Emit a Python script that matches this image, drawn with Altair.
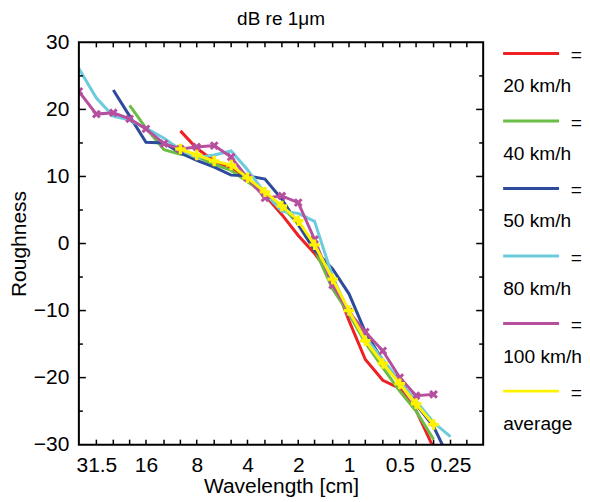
import altair as alt
import pandas as pd

# ---- data ----
wavelengths = [40, 31.5, 25, 20, 16, 12.5, 10, 8, 6.3, 5, 4, 3.15, 2.5, 2, 1.6,
               1.25, 1, 0.8, 0.63, 0.5, 0.4, 0.315, 0.25]
N = None
v20 = [N, N, N, N, N, N, 16.8, 14.2, 12.3, 11.2, 9.4, 7.2, 4.3, 1.2, -1.5,
       -5.0, -11.5, -17.3, -20.4, -21.6, -24.9, -30.5, N]
v40 = [N, N, N, 20.6, 17.2, 14.0, 13.3, 13.0, 11.8, 10.9, 9.2, 7.5, 5.5, 3.0, -0.8,
       -6.8, -10.5, -14.8, -18.5, -22.0, -25.0, -29.2, N]
v50 = [N, N, 22.9, 19.0, 15.1, 15.0, 13.5, 12.4, 11.4, 10.2, 10.1, 9.6, 6.6, 2.8, -1.0,
       -3.8, -7.5, -13.2, -17.5, -20.6, -24.0, -27.3, -32.5]
v80 = [26.1, 21.7, 19.0, 18.4, 17.2, 15.7, 14.0, 12.8, 13.2, 13.8, 11.0, 7.5, 4.8, 4.5, 3.3,
       -5.0, -10.3, -14.0, -17.3, -20.6, -23.5, -26.7, -28.8]
v100 = [22.7, 19.3, 19.5, 18.6, 17.1, 14.9, 14.1, 14.4, 14.6, 12.9, 9.8, 6.8, 7.1, 6.1, 0.6,
        -6.2, -10.2, -13.2, -16.0, -20.0, -22.7, -22.5, N]
vavg = [N, N, N, N, N, N, 14.1, 13.2, 12.3, 11.7, 9.8, 7.7, 5.6, 3.4, -0.2,
        -5.3, -10.0, -14.5, -17.9, -20.9, -23.9, -27.0, N]

labels = ["20 km/h", "40 km/h", "50 km/h", "80 km/h", "100 km/h", "average"]
colors = ["#ee2024", "#6cbd45", "#2e4b9b", "#6ccbdc", "#b74f9f", "#fff200"]
series = [v20, v40, v50, v80, v100, vavg]

x_ticks = [31.5, 25, 20, 16, 12.5, 10, 8, 6.3, 5, 4, 3.15, 2.5, 2, 1.6, 1.25, 1,
           0.8, 0.63, 0.5, 0.4, 0.315, 0.25, 0.2]
x_labeled = [31.5, 16, 8, 4, 2, 1, 0.5, 0.25]
y_major = [-30, -20, -10, 0, 10, 20, 30]
y_minor = [-25, -15, -5, 5, 15, 25]

rows = []
for lab, vals in zip(labels, series):
    for w, v in zip(wavelengths, vals):
        if v is not None:
            rows.append({"series": lab, "wavelength": w, "roughness": v})
df = pd.DataFrame(rows)

FONT = "Liberation Sans"
W, H = 405, 403
FS = 21
LFS = 19.2

lab_arr = "[" + ",".join(str(v) for v in x_labeled) + "]"
x_scale = alt.Scale(type="log", domain=[0.16, 40], reverse=True, nice=False)
y_scale = alt.Scale(domain=[-30, 30], nice=False, zero=False)

x_axis = alt.Axis(
    values=x_ticks, format="~g",
    labelExpr=f"indexof({lab_arr}, datum.value) >= 0 ? datum.label : ''",
    title="Wavelength [cm]", ticks=False, domain=False, grid=False,
    labelOverlap=False, labelFlush=False, labelPadding=10, titlePadding=0,
)
y_axis = alt.Axis(
    values=y_major, title="Roughness", ticks=False, domain=False, grid=False,
    labelOverlap=False, labelPadding=10, titlePadding=4,
)

plus_path = "M-1,-0.32H-0.32V-1H0.32V-0.32H1V0.32H0.32V1H-0.32V0.32H-1Z"

x_enc = alt.X("wavelength:Q", scale=x_scale, axis=x_axis)
y_enc = alt.Y("roughness:Q", scale=y_scale, axis=y_axis)

layers = []
for lab, col in zip(labels, colors):
    base = alt.Chart(df).transform_filter(alt.datum.series == lab)
    layers.append(base.mark_line(color=col, strokeWidth=3, clip=True).encode(x=x_enc, y=y_enc))
    if lab == "100 km/h":
        layers.append(base.mark_point(shape=plus_path, angle=45, filled=True, size=90,
                                      color=col, opacity=1, clip=True).encode(x=x_enc, y=y_enc))
    if lab == "average":
        layers.append(base.mark_point(shape=plus_path, filled=True, size=110,
                                      color=col, opacity=1, clip=True).encode(x=x_enc, y=y_enc))

# inward tick marks on all four sides
xt = alt.Chart(pd.DataFrame({"wavelength": x_ticks}))
yM = alt.Chart(pd.DataFrame({"roughness": y_major[1:-1]}))
ym = alt.Chart(pd.DataFrame({"roughness": y_minor}))
tick_style = dict(color="black", strokeWidth=1.5)
ticks = [
    xt.mark_rule(**tick_style).encode(x=x_enc, y=alt.value(H), y2=alt.value(H - 5)),
    xt.mark_rule(**tick_style).encode(x=x_enc, y=alt.value(0), y2=alt.value(5)),
    yM.mark_rule(**tick_style).encode(y=y_enc, x=alt.value(0), x2=alt.value(7)),
    yM.mark_rule(**tick_style).encode(y=y_enc, x=alt.value(W), x2=alt.value(W - 7)),
    ym.mark_rule(**tick_style).encode(y=y_enc, x=alt.value(0), x2=alt.value(4)),
    ym.mark_rule(**tick_style).encode(y=y_enc, x=alt.value(W), x2=alt.value(W - 4)),
]
frame = alt.Chart(pd.DataFrame({"f": [0]})).mark_rect(
    fill="transparent", stroke="black", strokeWidth=2
).encode(x=alt.value(0), x2=alt.value(W), y=alt.value(0), y2=alt.value(H))

main = alt.layer(*layers, *ticks, frame).properties(
    width=W, height=H,
    title=alt.TitleParams("dB re 1μm", fontSize=19, font=FONT, fontWeight="normal",
                          anchor="middle", frame="group", offset=2, color="black"),
)

LH = 406
leg_df = pd.DataFrame({"series": labels})
leg_base = alt.Chart(leg_df).encode(
    y=alt.Y("series:N", sort=labels,
            scale=alt.Scale(type="band", paddingInner=0, paddingOuter=0), axis=None)
)
leg_rule = leg_base.mark_rule(strokeWidth=3, yOffset=-22.8).encode(
    x=alt.value(0), x2=alt.value(56),
    color=alt.Color("series:N", scale=alt.Scale(domain=labels, range=colors), legend=None),
)
leg_eq = leg_base.mark_text(text="=", align="right", baseline="middle", fontSize=LFS,
                            font=FONT, color="black", yOffset=-21).encode(x=alt.value(79))
leg_lab = leg_base.mark_text(align="left", baseline="middle", fontSize=LFS, font=FONT,
                             color="black", yOffset=10.2).encode(x=alt.value(0), text="series:N")
legend = alt.layer(leg_rule, leg_eq, leg_lab).properties(width=78, height=LH)

chart = alt.hconcat(main, legend, spacing=17).properties(
    padding={"left": 0, "top": 2, "right": 0, "bottom": 0}
).configure_axis(
    labelFont=FONT, titleFont=FONT, labelFontSize=FS, titleFontSize=FS,
    labelColor="black", titleColor="black", titleFontWeight="normal",
).configure_view(strokeWidth=0, stroke="transparent")

chart.save("out.html", embed_options={"renderer": "svg", "actions": False})
